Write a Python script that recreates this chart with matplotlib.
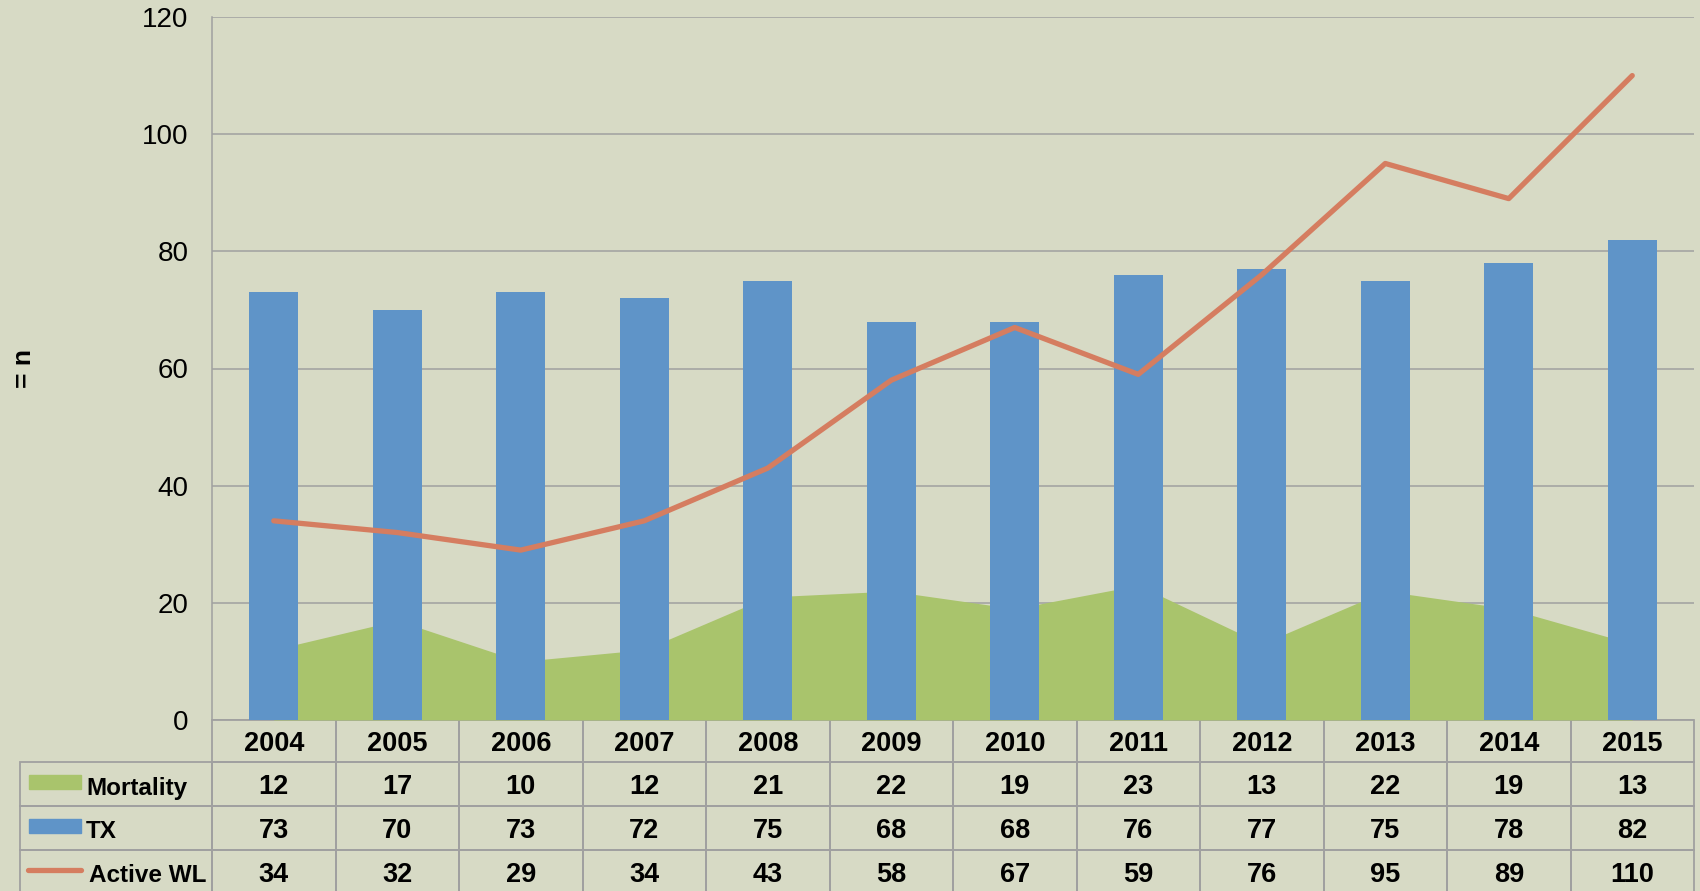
import matplotlib.pyplot as plt
import numpy as np
from matplotlib.table import Table
from matplotlib.patches import Rectangle
from matplotlib.lines import Line2D

years = ['2004', '2005', '2006', '2007', '2008', '2009', '2010', '2011', '2012', '2013', '2014', '2015']
mortality = [12, 17, 10, 12, 21, 22, 19, 23, 13, 22, 19, 13]
tx = [73, 70, 73, 72, 75, 68, 68, 76, 77, 75, 78, 82]
active_wl = [34, 32, 29, 34, 43, 58, 67, 59, 76, 95, 89, 110]
series_names = ['Mortality', 'TX', 'Active WL']

BG = '#D7DAC5'
GREEN = '#A9C46C'
BLUE = '#5F94C8'
ORANGE = '#D57D60'
GRID = '#A0A0A0'

plt.rcParams['font.family'] = ['Liberation Sans', 'DejaVu Sans']


def main():
    W, H = 1700, 891
    fig = plt.figure(figsize=(17, 8.91), dpi=100, facecolor=BG)
    left, right, top, bottom = 212, 1694, 17, 720
    ax = fig.add_axes([left / W, 1 - bottom / H, (right - left) / W, (bottom - top) / H])
    ax.set_facecolor(BG)

    x = np.arange(len(years))
    ax.fill_between(x, mortality, color=GREEN, linewidth=0, zorder=2)
    ax.bar(x, tx, width=0.4, color=BLUE, zorder=3)
    ax.plot(x, active_wl, color=ORANGE, linewidth=3.8, solid_capstyle='round',
            solid_joinstyle='round', zorder=4)

    ax.set_xlim(-0.5, len(years) - 0.5)
    ax.set_ylim(0, 120)
    ax.set_yticks(range(0, 121, 20))
    ax.set_xticks([])
    ax.yaxis.grid(True, color=GRID, linewidth=1.1, zorder=0)
    ax.set_axisbelow(True)
    for s in ['top', 'right', 'bottom']:
        ax.spines[s].set_visible(False)
    ax.spines['left'].set_color(GRID)
    ax.spines['left'].set_linewidth(1.1)
    ax.tick_params(axis='y', length=0, pad=17, labelsize=20)
    ax.set_ylabel('= n', fontsize=19, fontweight='bold', rotation=90, labelpad=0)
    ax.yaxis.set_label_coords(-(left - 36) / (right - left), 0.5)

    # data table under the plot
    aw = right - left
    ah = bottom - top
    lab_w = 192 / aw
    col_w = 1 / len(years)
    head_h = 42 / ah
    row_h = 44 / ah
    tbl = Table(ax, bbox=[0, -(head_h + 3 * row_h), 1, head_h + 3 * row_h])
    for j, yr in enumerate(years):
        tbl.add_cell(0, j, col_w, head_h, text=yr, loc='center', facecolor='none', edgecolor=GRID)
    rows = [mortality, tx, active_wl]
    for i, vals in enumerate(rows):
        tbl.add_cell(i + 1, -1, lab_w, row_h, text='', facecolor='none', edgecolor=GRID)
        for j, v in enumerate(vals):
            tbl.add_cell(i + 1, j, col_w, row_h, text=str(v), loc='center', facecolor='none', edgecolor=GRID)
    tbl.auto_set_font_size(False)
    for cell in tbl.get_celld().values():
        cell.set_linewidth(1.3)
        t = cell.get_text()
        t.set_fontsize(19.5)
        t.set_fontweight('bold')
        t.set_verticalalignment('center_baseline')
    ax.add_table(tbl)

    # legend swatches and row labels
    def ax_x(px):
        return (px - left) / aw

    def ax_y(py):
        return (bottom - py) / ah

    ax.add_patch(Rectangle((ax_x(29), ax_y(789)), 52 / aw, 14 / ah, transform=ax.transAxes,
                           color=GREEN, clip_on=False, zorder=5))
    ax.add_patch(Rectangle((ax_x(29), ax_y(833)), 52 / aw, 14 / ah, transform=ax.transAxes,
                           color=BLUE, clip_on=False, zorder=5))
    ax.add_line(Line2D([ax_x(28), ax_x(81)], [ax_y(870), ax_y(870)], transform=ax.transAxes,
                       color=ORANGE, linewidth=3.8, solid_capstyle='round', clip_on=False, zorder=5))
    for name, px, py in zip(series_names, [86, 86, 89], [786, 829, 873]):
        ax.text(ax_x(px), ax_y(py), name, transform=ax.transAxes, fontsize=17.5,
                fontweight='bold', ha='left', va='center_baseline')

    fig.savefig('out.png', dpi=100, facecolor=BG)


if __name__ == "__main__":
    main()
